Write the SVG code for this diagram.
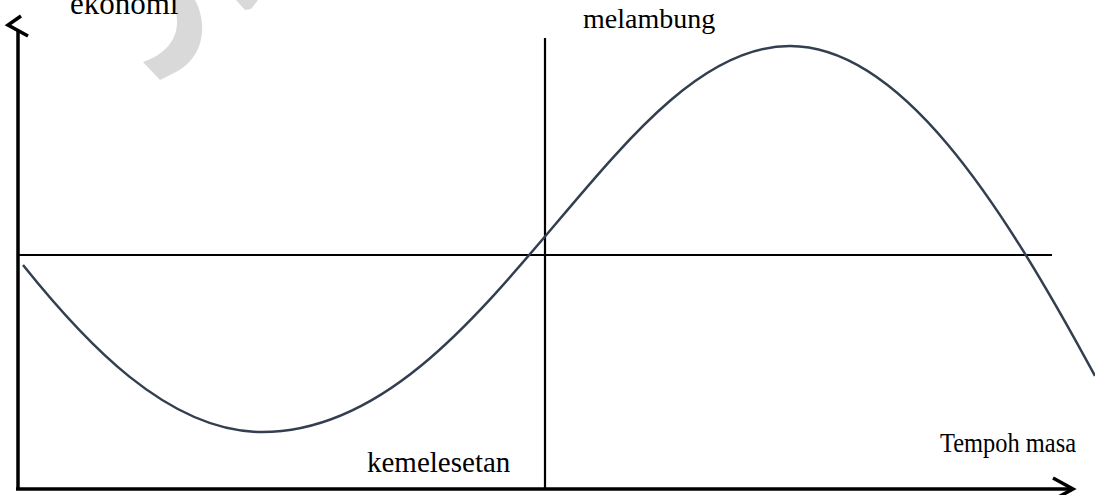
<svg xmlns="http://www.w3.org/2000/svg" width="1095" height="495" viewBox="0 0 1095 495">
<style>
.axis{stroke:#000;stroke-width:3.5;fill:none;stroke-linecap:butt}
.ref{stroke:#000;stroke-width:2.2;fill:none}
.curve{stroke:#333f50;stroke-width:2.5;fill:none}
.lbl{font-family:"Liberation Serif","Times New Roman",serif;fill:#000}
</style>
<rect width="1095" height="495" fill="#fff"/>
<g id="watermark" fill="#d9d9d9">
<path d="M172,0 L195,0 C207,22 206,56 176,72 L160,80 L143,62 C172,52 185,30 172,0 Z"/>
<path d="M236,0 L258,0 L251,9 L245,10 Z"/>
</g>
<g id="connectors">
<path class="axis" d="M18,30 L18,490"/>
<path class="axis" d="M21,16 L8,25 L28,36"/>
<path class="axis" d="M16,489 L1072,489"/>
<path class="axis" d="M1053,478 L1073,489 L1053,500"/>
<path class="ref" d="M17,255 L1052,255"/>
<path class="ref" d="M545,38 L545,489"/>
</g>
<g id="curve">
<path class="curve" d="M23,265 C83,340 167,432 262,432 C485,432 612,46 790,46 C900,46 1000,200 1095,376"/>
</g>
<g id="label-ekonomi"><text class="lbl" x="70" y="14" style="font-size:31px">ekonomi</text></g>
<g id="label-melambung"><text class="lbl" x="583" y="28" style="font-size:28px">melambung</text></g>
<g id="label-kemelesetan"><text class="lbl" x="367" y="472" style="font-size:29px">kemelesetan</text></g>
<g id="label-tempoh"><text class="lbl" x="940" y="452" style="font-size:27px" textLength="136" lengthAdjust="spacingAndGlyphs">Tempoh masa</text></g>
</svg>
